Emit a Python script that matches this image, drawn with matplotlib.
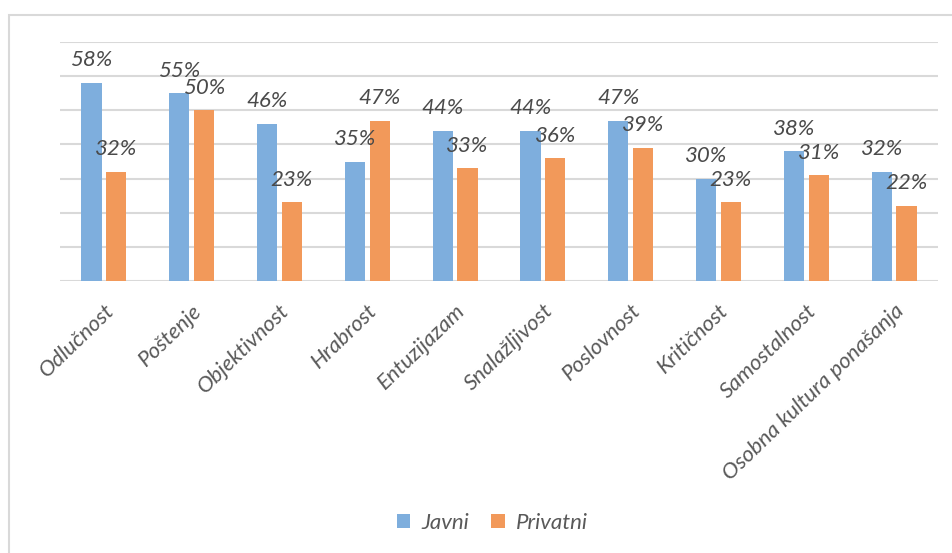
import matplotlib.pyplot as plt
from matplotlib.patches import Rectangle
import numpy as np

categories = ["Odlučnost", "Poštenje", "Objektivnost", "Hrabrost", "Entuzijazam",
              "Snalažljivost", "Poslovnost", "Kritičnost", "Samostalnost",
              "Osobna kultura ponašanja"]
javni = [58, 55, 46, 35, 44, 44, 47, 30, 38, 32]
privatni = [32, 50, 23, 47, 33, 36, 39, 23, 31, 22]
series_names = ["Javni", "Privatni"]

blue = "#7EAEDD"
orange = "#F2995A"
font = "Lato"

fig = plt.figure(figsize=(9.52, 5.53), dpi=100)
# outer chart frame (cut off at right and bottom like the screenshot)
fig.patches.append(Rectangle((9 / 952, -0.1), 1.1, 1 - 15 / 553 + 0.1,
                             transform=fig.transFigure, fill=False,
                             edgecolor="#D9D9D9", linewidth=1.5))

ax = fig.add_axes([60 / 952, 1 - 281 / 553, 878 / 952, 239 / 553])
x = np.arange(len(categories))
w = 0.23
off = 0.142
b1 = ax.bar(x - off, javni, w, color=blue, label=series_names[0], zorder=3)
b2 = ax.bar(x + off, privatni, w, color=orange, label=series_names[1], zorder=3)

for bars, vals in [(b1, javni), (b2, privatni)]:
    ax.bar_label(bars, labels=[f"{v}%" for v in vals], padding=9,
                 fontsize=16, fontstyle="italic",
                 color="#4A4A4A", family=font, zorder=4)

ax.set_xlim(-0.5, len(categories) - 0.5)
ax.set_ylim(0, 70)
ax.set_yticks(range(0, 71, 10))
ax.yaxis.grid(True, color="#D9D9D9", linewidth=1.5, zorder=0)
ax.tick_params(axis="y", left=False, labelleft=False)
ax.tick_params(axis="x", length=0, pad=14)
ax.set_xticks(x)
ax.set_xticklabels(categories, rotation=44, ha="right", rotation_mode="anchor",
                   fontsize=16, fontstyle="italic",
                   color="#595959", family=font)
for s in ["top", "right", "left", "bottom"]:
    ax.spines[s].set_visible(False)

fig.legend(loc="center", bbox_to_anchor=(0.517, 1 - 523 / 553), ncol=2,
           frameon=False, handlelength=0.6, handleheight=0.6, handletextpad=0.5,
           columnspacing=1.0,
           prop={"family": font, "style": "italic", "size": 16},
           labelcolor="#595959")

fig.savefig("out.png", dpi=100)
